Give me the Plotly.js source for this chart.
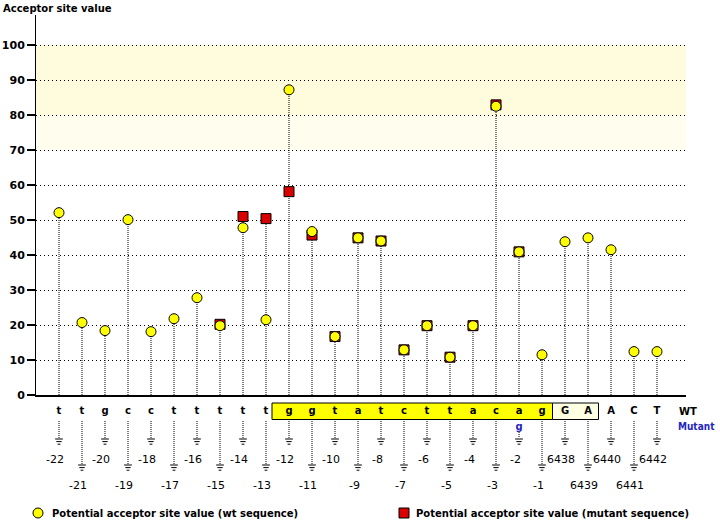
<!DOCTYPE html>
<html>
<head>
<meta charset="utf-8">
<script src="https://cdn.plot.ly/plotly-3.0.1.min.js"></script>
<style>html,body{margin:0;padding:0;background:#fff}#chart{width:720px;height:520px}</style>
</head>
<body>
<div id="chart"></div>
<script>
// ---- data ----
const positions = ['-22','-21','-20','-19','-18','-17','-16','-15','-14','-13','-12','-11','-10','-9','-8','-7','-6','-5','-4','-3','-2','-1','6438','6439','6440','6441','6442'];
const wtBases = ['t','t','g','c','c','t','t','t','t','t','g','g','t','a','t','c','t','t','a','c','a','g','G','A','A','C','T'];
const mutantBases = ['','','','','','','','','','','','','','','','','','','','','g','','','','','',''];
const wtValues = [52.1,20.7,18.4,50.1,18.1,21.8,27.8,19.8,47.8,21.5,87.2,46.7,16.7,44.9,44.0,12.9,19.8,10.8,19.8,82.5,40.9,11.5,43.8,44.9,41.5,12.4,12.4];
const mutantValues = [null,null,null,null,null,null,null,20.2,51.0,50.4,58.1,45.7,16.7,44.9,44.0,12.9,19.8,10.8,19.8,82.9,40.9,null,null,null,null,null,null];
const yTicks = [0,10,20,30,40,50,60,70,80,90,100];
const legendLabels = ['Potential acceptor site value (wt sequence)','Potential acceptor site value (mutant sequence)'];

// ---- layout constants (pixels) ----
const W = 720, H = 520;
const plotL = 36, plotR = 686, plotT = 15, plotB = 395;
const pxPerUnit = 3.5;
const x0px = 59, stepPx = 23;
const toIdx = p => (p - x0px) / stepPx;
const FONT = '"DejaVu Sans", Verdana, sans-serif';
const legendY = 513;

// stems in plot
const stemX = [], stemY = [];
positions.forEach((p, i) => {
  const top = Math.max(wtValues[i], mutantValues[i] == null ? -Infinity : mutantValues[i]);
  stemX.push(p, p, null); stemY.push(0, top, null);
});
// lower section: value = -pixel
const letterY = -411, mutY = -427;
const groundTop = i => (i % 2 === 0 ? 439 : 465);
const lowX = [], lowY = [];
positions.forEach((p, i) => {
  lowX.push(p, p, null);
  lowY.push(mutantBases[i] ? -432 : -421, -groundTop(i) + 1, null);
});

const groundTraces = [0, 1, 2].map(k => ({
  type: 'scatter', mode: 'markers', xaxis: 'x', yaxis: 'y2', hoverinfo: 'skip', cliponaxis: false,
  x: positions, y: positions.map((p, i) => -(groundTop(i) + k * 2.6)),
  marker: { symbol: 'line-ew', size: [5.5, 3.8, 2][k], line: { color: '#000', width: 1 } }
}));

const traces = [
  { type: 'scatter', mode: 'lines', x: stemX, y: stemY, xaxis: 'x', yaxis: 'y', hoverinfo: 'skip',
    line: { color: '#000', width: 1, dash: '1px,1px' } },
  { type: 'scatter', mode: 'markers', name: legendLabels[1], x: positions, y: mutantValues, xaxis: 'x', yaxis: 'y', cliponaxis: false,
    marker: { symbol: 'square', size: 10, color: '#D80000', line: { color: '#000', width: 1 } } },
  { type: 'scatter', mode: 'markers', name: legendLabels[0], x: positions, y: wtValues, xaxis: 'x', yaxis: 'y', cliponaxis: false,
    marker: { symbol: 'circle', size: 10, color: '#FFFF00', line: { color: '#000', width: 1 } } },
  { type: 'scatter', mode: 'lines', x: lowX, y: lowY, xaxis: 'x', yaxis: 'y2', hoverinfo: 'skip',
    line: { color: '#000', width: 1, dash: '1px,1px' } },
  ...groundTraces,
  { type: 'scatter', mode: 'text', x: positions, y: positions.map(() => letterY), text: wtBases, xaxis: 'x', yaxis: 'y2', cliponaxis: false,
    textfont: { family: FONT, size: 10, weight: 'bold', color: '#000' }, hoverinfo: 'skip' },
  { type: 'scatter', mode: 'text', x: positions, y: positions.map(() => mutY), text: mutantBases, xaxis: 'x', yaxis: 'y2', cliponaxis: false,
    textfont: { family: FONT, size: 10, weight: 'bold', color: '#2424C0' }, hoverinfo: 'skip' },
  { type: 'scatter', mode: 'markers', x: [38], y: [-legendY], xaxis: 'x2', yaxis: 'y2', cliponaxis: false, hoverinfo: 'skip',
    marker: { symbol: 'circle', size: 10, color: '#FFFF00', line: { color: '#000', width: 1 } } },
  { type: 'scatter', mode: 'markers', x: [404], y: [-legendY], xaxis: 'x2', yaxis: 'y2', cliponaxis: false, hoverinfo: 'skip',
    marker: { symbol: 'square', size: 10, color: '#D80000', line: { color: '#000', width: 1 } } }
];

// position number labels (centred a little left of each stem, as in the reference)
const numberAnnotations = positions.map((p, i) => ({
  xref: 'x', yref: 'y2', x: i, y: -(groundTop(i) + 20), xshift: -4, showarrow: false,
  xanchor: 'center', yanchor: 'middle', text: p,
  font: { family: FONT, size: 11, color: '#000' }
}));

const layout = {
  width: W, height: H,
  margin: { l: 0, r: 0, t: 0, b: 0, autoexpand: false },
  paper_bgcolor: '#fff', plot_bgcolor: 'rgba(0,0,0,0)',
  showlegend: false,
  font: { family: FONT, color: '#000' },
  title: { text: 'Acceptor site value', x: 3 / W, xanchor: 'left', xref: 'paper', y: 1 - 8 / H, yanchor: 'middle',
    font: { family: FONT, size: 10, weight: 'bold', color: '#000' } },
  xaxis: { domain: [plotL / W, plotR / W], anchor: 'y', type: 'category', categoryarray: positions,
    range: [toIdx(plotL), toIdx(plotR)], showline: true, linecolor: '#000', linewidth: 2,
    showgrid: false, zeroline: false, showticklabels: false, ticks: '', fixedrange: true },
  yaxis: { domain: [1 - plotB / H, 1 - plotT / H], anchor: 'x', range: [0, (plotB - plotT) / pxPerUnit],
    tickmode: 'array', tickvals: yTicks, ticktext: yTicks.map(String),
    showgrid: true, gridcolor: '#000', gridwidth: 1, griddash: '1px,3px',
    showline: true, linecolor: '#000', linewidth: 1, zeroline: false,
    ticks: 'outside', ticklen: 8, tickwidth: 2, tickcolor: '#000',
    tickfont: { family: FONT, size: 11, weight: 'bold', color: '#000' }, fixedrange: true },
  yaxis2: { domain: [0, 1 - plotB / H], anchor: 'x', range: [-H, -plotB], visible: false, fixedrange: true },
  xaxis2: { domain: [0, 1], anchor: 'y2', range: [0, W], visible: false, fixedrange: true },
  shapes: [
    { type: 'rect', xref: 'x domain', yref: 'y', x0: 0, x1: 1, y0: 80, y1: 100, fillcolor: '#FFFCDD', line: { width: 0 }, layer: 'below' },
    { type: 'rect', xref: 'x domain', yref: 'y', x0: 0, x1: 1, y0: 70, y1: 80, fillcolor: '#FFFEEE', line: { width: 0 }, layer: 'below' },
    { type: 'rect', xref: 'x', yref: 'y2', x0: toIdx(272), x1: toIdx(552.5), y0: -403, y1: -419.5, fillcolor: '#FFFF00', line: { color: '#000', width: 1 }, layer: 'below' },
    { type: 'rect', xref: 'x', yref: 'y2', x0: toIdx(552.5), x1: toIdx(598.5), y0: -403, y1: -419.5, fillcolor: '#FFFFE2', line: { color: '#000', width: 1 }, layer: 'below' }
  ],
  annotations: [
    ...numberAnnotations,
    { xref: 'paper', yref: 'paper', x: 677 / W, y: 1 - 411 / H, xanchor: 'left', yanchor: 'middle', showarrow: false, text: 'WT',
      font: { family: FONT, size: 10, weight: 'bold', color: '#000' } },
    { xref: 'paper', yref: 'paper', x: 717 / W, y: 1 - 426 / H, xanchor: 'right', yanchor: 'middle', showarrow: false, text: 'Mutant',
      font: { family: '"DejaVu Sans Condensed", "DejaVu Sans", sans-serif', size: 10, weight: 'bold', color: '#2424C0' } },
    { xref: 'paper', yref: 'paper', x: 50 / W, y: 1 - legendY / H, xanchor: 'left', yanchor: 'middle', showarrow: false, text: legendLabels[0],
      font: { family: FONT, size: 10, weight: 'bold', color: '#000' } },
    { xref: 'paper', yref: 'paper', x: 414 / W, y: 1 - legendY / H, xanchor: 'left', yanchor: 'middle', showarrow: false, text: legendLabels[1],
      font: { family: FONT, size: 10, weight: 'bold', color: '#000' } }
  ]
};

Plotly.newPlot('chart', traces, layout, { displayModeBar: false, staticPlot: true });
</script>
</body>
</html>
